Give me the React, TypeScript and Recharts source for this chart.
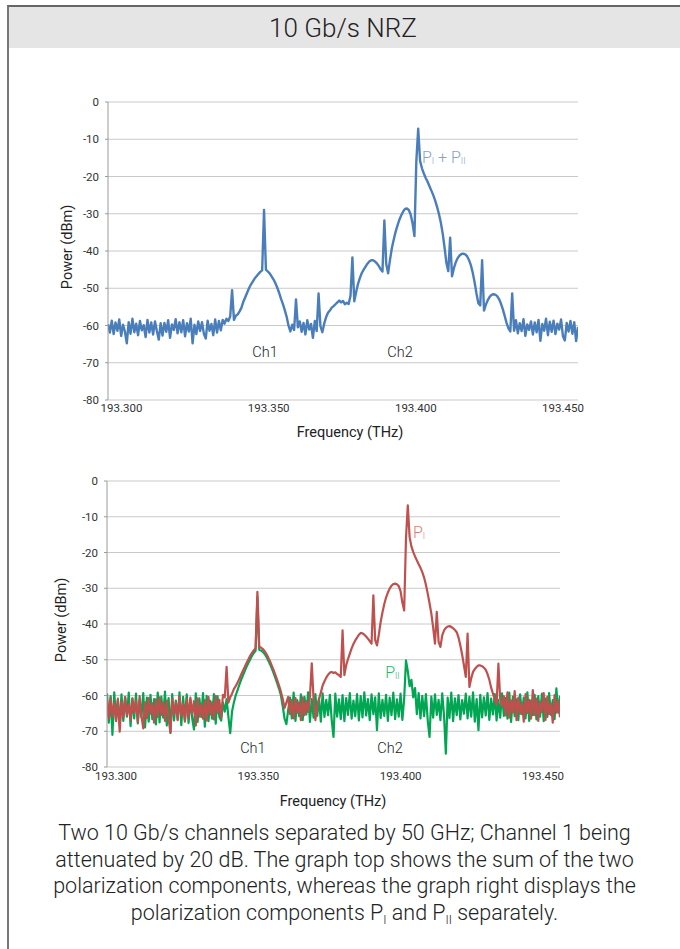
import React from 'react';
import { LineChart, Line, XAxis, YAxis, CartesianGrid, ReferenceDot } from 'recharts';

// OSA sampling grid (THz)
const F_START = 193.3;
const F_STEP = 0.0006;

// top graph: P_I + P_II (dBm), one value per grid point
const sumTrace = [
  -59.6, -61.9, -58.7, -62.3, -59.2, -61.4, -58.4, -62.8, -59.8, -61.6,
  -64.8, -59.1, -62.2, -58.2, -61.8, -59.5, -62.6, -58.8, -61.3, -59.9,
  -63.1, -58.5, -61.9, -59.2, -62.4, -58.9, -61.5, -63.8, -59.4, -62.7,
  -59.3, -61.7, -58.6, -63.3, -59.7, -61.2, -58.3, -62.1, -59.1, -61.8,
  -58.6, -62.9, -59.4, -61.6, -58.2, -64.8, -59.8, -62.3, -58.9, -61.5,
  -59.1, -62.2, -63.5, -58.7, -61.4, -59.6, -62.6, -58.4, -61.9, -58.8,
  -61.3, -58.5,
  -59.5, -58.2, -58.8, -57.6, -50.5, -58.5, -57.4, -57.0,
  -56.2, -55.2, -53.6, -52.4, -51.2, -50, -49, -48.2, -47.4, -46.8,
  -46.2, -45.6, -45.2, -29, -45.0, -45.5, -46.0, -46.8, -47.6, -48.6,
  -49.8, -51.2, -52.8, -54.2, -55.8, -57.6, -60, -61.6, -59.8, -61.2,
  -53, -60.5,
  -58.9, -61.7, -59.3, -62.4, -58.6, -61.1, -59.6, -63.3, -58.8, -61.5,
  -51.4, -60.2, -61.8, -59.5, -57.8, -56.6, -56, -55.2, -54.8, -54.3,
  -53.8, -53.3, -53.8, -53.4, -54.3, -53.9, -54.2, -52, -41.7, -53.5,
  -51, -48.8, -47.2, -45.9, -45, -44.2, -43.4, -42.8, -42.5, -42.5,
  -42.8, -43.3, -44, -44.9, -45.5, -31.8, -43.5, -46, -42.4, -39.2,
  -36.9, -34.8, -33.1, -31.6, -30.4, -29.4, -28.7, -28.6, -29, -30.2,
  -32.6, -36, -16, -7.2, -15.8, -17.8, -19.2, -20.4, -21.4, -22.6,
  -23.8, -25, -26.4, -28.1, -30, -32.3, -35.2, -39, -43.2, -45.4,
  -36.4, -46.8, -44.6, -43, -41.9, -41.2, -40.8, -40.7, -40.9, -41.4,
  -42.4, -43.8, -45.8, -48.4, -51.4, -54, -54.6, -42.5, -56, -54.4,
  -53.2, -52.3, -51.8, -51.6, -51.7, -52.1, -52.9, -54.1, -55.6, -57.4,
  -59.3, -60.8, -61.6, -51.4, -61.4,
  -58.6, -62.1, -59.4, -61.5, -58.3, -62.8, -59.7, -61.2, -58.9, -62.4,
  -59.2, -61.8, -58.5, -64.1, -59.6, -61.4, -58.2, -62.6, -59.0, -61.7,
  -58.7, -62.3, -59.5, -61.1, -58.4, -62.9, -64.0, -59.3, -61.6, -58.8,
  -62.2, -59.1, -64.2, -60.4,
];

// bottom graph: P_I (red)
const pITrace = [
  -61.2, -66.4, -60.6, -65.8, -62.1, -67.2, -60.9, -70.1, -61.7, -66.1,
  -60.4, -65.5, -62.4, -66.8, -60.8, -64.9, -61.5, -67.4, -60.2, -65.7,
  -69.2, -61.9, -66.3, -60.7, -65.1, -62.2, -67.6, -61.1, -66, -60.5,
  -65.4, -62, -67.1, -61.4, -66.6, -70.3, -60.9, -65.2, -61.8, -66.9,
  -60.3, -65.6, -62.3, -67.3, -61, -66.2, -60.6, -65, -61.6, -68.4,
  -60.8, -65.9, -62.5, -66.5, -61.3, -67, -60.4, -65.3, -61.9, -66.7,
  -60.1, -64.8, -61.2, -66.2, -59.8,
  -60.5, -52, -62, -60.5, -59.5, -58.2, -57.4, -56.4, -55.4, -54.2,
  -53.1, -52, -50.9, -49.9, -48.9, -48.1, -47.4, -46.8, -31, -46.4,
  -46.6, -47, -47.6, -48.4, -49.4, -50.5, -51.7, -53, -54.4, -55.8,
  -57.3, -59, -61, -63.5, -62,
  -60.4, -65.2, -61.3, -66.4, -60.7, -64.8, -62, -66.9, -60.5, -65.5,
  -61.6, -64.6, -60.2,
  -51, -61, -66.9, -63, -61, -59.2, -57.2, -56, -55, -54.2,
  -53.6, -53.4, -53.7, -53.5, -54, -54.3, -54.8, -41.8, -54.3, -51.5,
  -49.8, -48.3, -46.8, -45.6, -44.6, -43.8, -43, -42.5, -42.6, -43,
  -43.5, -44.1, -44.8, -45.5, -32, -44.5, -46, -43, -39.5, -36.8,
  -34.5, -32.6, -31.2, -30.1, -29.3, -28.8, -28.7, -28.9, -29.4, -30.8,
  -34, -36.2, -16, -6.8, -15.7, -18.3, -19.9, -21.1, -22.2, -23.3,
  -24.3, -25.5, -27, -29, -31.5, -34.2, -37.1, -41, -45.5, -36.6,
  -45, -46.4, -43.2, -41.8, -41.1, -40.7, -40.6, -40.8, -41.2, -41.7,
  -42.3, -43.8, -46, -48.6, -51.6, -54.8, -42.7, -57.6, -55.2, -53.4,
  -52.6, -52, -51.6, -51.6, -51.8, -52.2, -52.8, -54, -55.6, -57.8,
  -59.5, -61.2, -62.5, -51.1, -61, -63,
  -60.2, -65.6, -59.1, -66.2, -61.4, -64.7, -58.8, -66.9, -60.6, -65.1,
  -62.1, -67.3, -59.6, -64.9, -61.2, -66.5, -58.5, -65.4, -60.9, -67.1,
  -61.7, -64.6, -59.3, -66.8, -60.4, -65.2, -62.3, -67.6, -59.9, -64.8,
  -61.5, -66.1,
];

// bottom graph: P_II (green)
const pIITrace = [
  -59.4, -67.6, -60.2, -71, -59.1, -66.8, -61.3, -68.2, -59.7, -67.1,
  -60.5, -65.9, -59.2, -68.6, -60.9, -66.4, -59.5, -67.8, -61.2, -66.1,
  -59.3, -68.9, -60.6, -67.3, -59.8, -66.6, -61, -68.1, -59.2, -67.5,
  -60.3, -66.2, -58.9, -68.4, -60.7, -70.5, -59.6, -67, -61.4, -66.7,
  -59.1, -68.3, -60.4, -66.9, -59.7, -67.7, -61.1, -66.3, -69.5, -59.4,
  -67.4, -60.8, -66, -59.3, -68.7, -60.1, -67.2, -61.5, -66.5, -59.6,
  -67.9, -60.2,
  -66, -67, -62, -64.5, -61, -66, -70.5, -64.5, -62, -60,
  -58.6, -57, -55.6, -54.4, -53.2, -52, -50.9, -49.9, -48.9, -48.1,
  -47.5, -32.5, -47.2, -47.4, -47.8, -48.4, -49.2, -50.2, -51.3, -52.5,
  -53.8, -55.2, -56.7, -58.2, -60, -63, -66.5, -68, -64,
  -60.6, -66.4, -59.2, -67.1, -61.3, -65.8, -59.7, -66.9, -60.4, -65.3,
  -59.1, -67.4, -61, -66.2, -59.6, -65.7, -60.8, -67.3, -59.4, -66,
  -61.2, -65.5, -59.8, -66.8, -71.6, -59.5, -65.9, -61.1, -66.6, -59.9,
  -67.2, -60.7, -65.4, -59.3, -66.5, -61.4, -65.8, -59.6, -67, -60.2,
  -66.1, -59.1, -65.6, -61, -66.9, -59.7, -65.2, -60.5, -69.7, -59.4,
  -66.3, -61.2, -65.7, -59.8, -67.1, -60.6, -65.5, -59.2, -66.6, -61.1,
  -65.9, -59.5, -66.8, -60.9, -50.2, -53.2, -57.4, -55.6, -60.5, -57.9,
  -65.2, -59.3, -66.4, -60.1, -65.8, -59.6, -67, -71.6, -60.3, -66.2,
  -59.7, -65.4, -61.2, -66.9, -59.4, -65.6, -76.3, -60.6, -66.3, -59.2,
  -67.2, -60.8, -65.5, -59.9, -66.7, -61.3, -65.1, -59.5, -66.4, -60.4,
  -65.9, -59.1, -67.3, -61, -69.7, -59.8, -66.1, -60.5, -65.6, -59.3,
  -66.8, -60.9, -65.3, -59.6, -67, -61.2, -66.2, -59.4, -65.7, -60.7,
  -66.5, -59.2, -67.4, -60.3, -65.8, -61.1, -66.9, -59.7, -65.2, -60.6,
  -66.4, -59.1, -67.1, -61.4, -65.5, -59.8, -66.7, -60.2, -65.9, -59.5,
  -67.2, -60.9, -66, -59.3, -65.4, -61.3, -66.6, -58, -64.8, -60.1,
];

const powerTicks = [0, -10, -20, -30, -40, -50, -60, -70, -80];
const minorFreqTicks = [
  193.3, 193.31, 193.32, 193.33, 193.34, 193.35, 193.36, 193.37,
  193.38, 193.39, 193.4, 193.41, 193.42, 193.43, 193.44, 193.45,
];
const freqLabels = [193.3, 193.35, 193.4, 193.45];

const freqAt = (i: number) => Math.round((F_START + i * F_STEP) * 1e4) / 1e4;
const topData = sumTrace.map((p, i) => ({ f: freqAt(i), p }));
const bottomData = pITrace.map((p, i) => ({ f: freqAt(i), pI: p, pII: pIITrace[i] }));

const font = 'Roboto, "Liberation Sans", Arial, sans-serif';
const axisGray = '#9a9a9a';
const gridGray = '#c9c9c9';

type Part = { t: string; sub?: boolean };

// text with subscripts, anchored on a ReferenceDot
const SubLabel = ({ viewBox, parts, fill, fontSize, anchor = 'start' }: any) => {
  if (!viewBox) return null;
  let inSub = false;
  return (
    <text
      x={viewBox.x}
      y={viewBox.y}
      fill={fill}
      fontSize={fontSize}
      fontFamily={font}
      fontWeight={300}
      textAnchor={anchor}
      dominantBaseline="central"
    >
      {parts.map((pt: Part, k: number) => {
        let dy = 0;
        if (pt.sub && !inSub) dy = 4;
        if (!pt.sub && inSub) dy = -4;
        inSub = !!pt.sub;
        return (
          <tspan key={k} dy={dy} fontSize={pt.sub ? fontSize * 0.55 : fontSize}>
            {pt.t}
          </tspan>
        );
      })}
    </text>
  );
};

const yAxisProps = {
  type: 'number' as const,
  domain: [-80, 0],
  ticks: powerTicks,
  interval: 0 as const,
  width: 40,
  tickSize: 3,
  tickMargin: 6,
  axisLine: { stroke: axisGray },
  tickLine: { stroke: axisGray },
  tick: { fill: '#333', fontSize: 11.5, fontFamily: font },
  allowDataOverflow: true,
};

const absText = (left: number, top: number, size: number, extra: any = {}) => ({
  position: 'absolute' as const,
  left,
  top,
  transform: 'translate(-50%, -50%)',
  whiteSpace: 'nowrap' as const,
  fontSize: size,
  fontFamily: font,
  color: '#222',
  ...extra,
});

export default function App() {
  return (
    <div style={{ position: 'absolute', left: 0, top: 0, width: 680, height: 949, background: '#fff', overflow: 'hidden', fontFamily: font }}>
      <div style={{ position: 'absolute', left: 7, top: 5, width: 673, height: 944, borderLeft: '2px solid #777', borderTop: '2px solid #666', boxSizing: 'border-box' }} />
      <div style={{ position: 'absolute', left: 9, top: 7, width: 671, height: 41, background: '#e5e5e5' }} />
      <div style={absText(343, 28, 26, { fontWeight: 300 })}>10 Gb/s NRZ</div>

      {/* top graph */}
      <div style={{ position: 'absolute', left: 40, top: 85 }}>
        <LineChart width={560} height={355} data={topData} margin={{ top: 17, right: 22, bottom: 10, left: 28 }}>
          <CartesianGrid xAxisId="data" vertical={false} stroke={gridGray} />
          <XAxis
            xAxisId="data"
            dataKey="f"
            type="number"
            orientation="top"
            domain={[193.3, 193.45]}
            allowDataOverflow
            ticks={minorFreqTicks}
            interval={0}
            tick={false}
            tickSize={3}
            height={0}
            axisLine={{ stroke: axisGray }}
            tickLine={{ stroke: axisGray }}
          />
          <XAxis
            xAxisId="labels"
            dataKey="f"
            type="number"
            orientation="bottom"
            domain={[193.29541, 193.4551]}
            allowDataOverflow
            ticks={freqLabels}
            interval={0}
            axisLine={false}
            tickLine={false}
            tickSize={0}
            tickMargin={4}
            height={30}
            tickFormatter={(v: number) => v.toFixed(3)}
            tick={{ fill: '#333', fontSize: 11.5, fontFamily: font }}
          />
          <YAxis {...yAxisProps} />
          <Line xAxisId="data" dataKey="p" stroke="#4a7ebb" strokeWidth={2.4} strokeLinejoin="round" dot={false} isAnimationActive={false} />
          <ReferenceDot xAxisId="data" x={193.3501} y={-67.1} r={0} stroke="none"
            label={<SubLabel parts={[{ t: 'Ch1' }]} fill="#222" fontSize={14.5} anchor="middle" />} />
          <ReferenceDot xAxisId="data" x={193.3932} y={-67.1} r={0} stroke="none"
            label={<SubLabel parts={[{ t: 'Ch2' }]} fill="#222" fontSize={14.5} anchor="middle" />} />
          <ReferenceDot xAxisId="data" x={193.4002} y={-14.8} r={0} stroke="none"
            label={<SubLabel parts={[{ t: 'P' }, { t: 'I', sub: true }, { t: ' + P' }, { t: 'II', sub: true }]} fill="#7ea3d6" fontSize={16} />} />
        </LineChart>
      </div>
      <div style={absText(67, 247, 14.5, { transform: 'translate(-50%, -50%) rotate(-90deg)' })}>Power (dBm)</div>
      <div style={absText(350, 432, 14.5)}>Frequency (THz)</div>

      {/* bottom graph */}
      <div style={{ position: 'absolute', left: 40, top: 465 }}>
        <LineChart width={545} height={345} data={bottomData} margin={{ top: 16, right: 25, bottom: 13, left: 27 }}>
          <CartesianGrid xAxisId="data" vertical={false} stroke={gridGray} />
          <XAxis
            xAxisId="data"
            dataKey="f"
            type="number"
            orientation="top"
            domain={[193.3, 193.45]}
            allowDataOverflow
            ticks={minorFreqTicks}
            interval={0}
            tick={false}
            tickSize={3}
            height={0}
            axisLine={{ stroke: axisGray }}
            tickLine={{ stroke: axisGray }}
          />
          <XAxis
            xAxisId="labels"
            dataKey="f"
            type="number"
            orientation="bottom"
            domain={[193.29684, 193.45597]}
            allowDataOverflow
            ticks={freqLabels}
            interval={0}
            axisLine={false}
            tickLine={false}
            tickSize={0}
            tickMargin={5}
            height={30}
            tickFormatter={(v: number) => v.toFixed(3)}
            tick={{ fill: '#333', fontSize: 11.5, fontFamily: font }}
          />
          <YAxis {...yAxisProps} />
          <Line xAxisId="data" dataKey="pII" stroke="#00a651" strokeWidth={2.2} strokeLinejoin="round" dot={false} isAnimationActive={false} />
          <Line xAxisId="data" dataKey="pI" stroke="#c0504d" strokeWidth={2.2} strokeLinejoin="round" dot={false} isAnimationActive={false} />
          <ReferenceDot xAxisId="data" x={193.3483} y={-74.8} r={0} stroke="none"
            label={<SubLabel parts={[{ t: 'Ch1' }]} fill="#222" fontSize={14.5} anchor="middle" />} />
          <ReferenceDot xAxisId="data" x={193.3937} y={-74.8} r={0} stroke="none"
            label={<SubLabel parts={[{ t: 'Ch2' }]} fill="#222" fontSize={14.5} anchor="middle" />} />
          <ReferenceDot xAxisId="data" x={193.4013} y={-14.3} r={0} stroke="none"
            label={<SubLabel parts={[{ t: 'P' }, { t: 'I', sub: true }]} fill="#d57d7a" fontSize={16} />} />
          <ReferenceDot xAxisId="data" x={193.3921} y={-53.5} r={0} stroke="none"
            label={<SubLabel parts={[{ t: 'P' }, { t: 'II', sub: true }]} fill="#2db36b" fontSize={16} />} />
        </LineChart>
      </div>
      <div style={absText(61, 620, 14.5, { transform: 'translate(-50%, -50%) rotate(-90deg)' })}>Power (dBm)</div>
      <div style={absText(333, 801, 14.5)}>Frequency (THz)</div>

      {/* caption */}
      <div style={{ position: 'absolute', left: 9, top: 820, width: 671, textAlign: 'center', fontSize: 21.5, lineHeight: '26.7px', fontWeight: 300, color: '#222', fontFamily: font }}>
        <div>Two 10 Gb/s channels separated by 50 GHz; Channel 1 being</div>
        <div>attenuated by 20 dB. The graph top shows the sum of the two</div>
        <div>polarization components, whereas the graph right displays the</div>
        <div>
          polarization components P<span style={{ fontSize: 12, position: 'relative', top: 4 }}>I</span> and P
          <span style={{ fontSize: 12, position: 'relative', top: 4 }}>II</span> separately.
        </div>
      </div>
    </div>
  );
}
